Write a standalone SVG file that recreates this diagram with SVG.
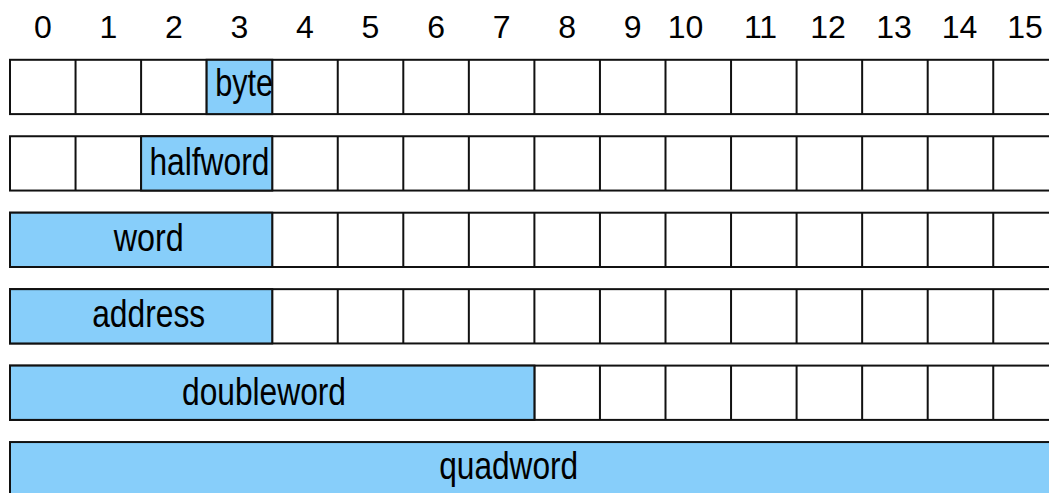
<svg xmlns="http://www.w3.org/2000/svg" xmlns:xlink="http://www.w3.org/1999/xlink" width="1049" height="493" viewBox="0 0 1049 493">
<style>
.cell{fill:#ffffff;stroke:#111111;stroke-width:2}
.vl{fill:none;stroke:#111111;stroke-width:2}
.blk{fill:#87CEFA;stroke:#111111;stroke-width:2}
.idx{font-family:"Liberation Sans",Arial,sans-serif;font-size:32px;fill:#000;text-anchor:middle}
.lbl{font-family:"Liberation Sans Narrow","Liberation Sans",Arial,sans-serif;font-size:38px;fill:#000;text-anchor:middle}
</style>
<defs>
<g id="grid">
<rect class="cell" x="10" y="0" width="1048.8" height="54.3"/>
<path class="vl" d="M75.55 0V54.3M141.1 0V54.3M206.65 0V54.3M272.2 0V54.3M337.75 0V54.3M403.3 0V54.3M468.85 0V54.3M534.4 0V54.3M599.95 0V54.3M665.5 0V54.3M731.05 0V54.3M796.6 0V54.3M862.15 0V54.3M927.7 0V54.3M993.25 0V54.3"/>
</g>
</defs>
<rect width="1049" height="493" fill="#ffffff"/>
<g id="header">
<text class="idx" x="42.8" y="38">0</text>
<text class="idx" x="108.3" y="38">1</text>
<text class="idx" x="173.9" y="38">2</text>
<text class="idx" x="239.4" y="38">3</text>
<text class="idx" x="305" y="38">4</text>
<text class="idx" x="370.5" y="38">5</text>
<text class="idx" x="436.1" y="38">6</text>
<text class="idx" x="501.6" y="38">7</text>
<text class="idx" x="567.2" y="38">8</text>
<text class="idx" x="632.7" y="38">9</text>
<text class="idx" x="685.5" y="38">10</text>
<text class="idx" x="760.5" y="38">11</text>
<text class="idx" x="828" y="38">12</text>
<text class="idx" x="894" y="38">13</text>
<text class="idx" x="959.5" y="38">14</text>
<text class="idx" x="1025" y="38">15</text>
</g>
<g id="row-byte">
<use xlink:href="#grid" href="#grid" y="59.8"/>
<rect class="blk" x="206.65" y="59.8" width="65.55" height="54.3"/>
<text class="lbl" x="244.2" y="96" textLength="58" lengthAdjust="spacingAndGlyphs">byte</text>
</g>
<g id="row-halfword">
<use xlink:href="#grid" href="#grid" y="136.25"/>
<rect class="blk" x="141.1" y="136.25" width="131.1" height="54.3"/>
<text class="lbl" x="209.4" y="175" textLength="120" lengthAdjust="spacingAndGlyphs">halfword</text>
</g>
<g id="row-word">
<use xlink:href="#grid" href="#grid" y="212.7"/>
<rect class="blk" x="10" y="212.7" width="262.2" height="54.3"/>
<text class="lbl" x="148.8" y="250.5" textLength="70" lengthAdjust="spacingAndGlyphs">word</text>
</g>
<g id="row-address">
<use xlink:href="#grid" href="#grid" y="289.15"/>
<rect class="blk" x="10" y="289.15" width="262.2" height="54.3"/>
<text class="lbl" x="148.7" y="327" textLength="113" lengthAdjust="spacingAndGlyphs">address</text>
</g>
<g id="row-doubleword">
<use xlink:href="#grid" href="#grid" y="365.6"/>
<rect class="blk" x="10" y="365.6" width="524.4" height="54.3"/>
<text class="lbl" x="264" y="405" textLength="164" lengthAdjust="spacingAndGlyphs">doubleword</text>
</g>
<g id="row-quadword">
<rect class="blk" x="10" y="442.05" width="1048.8" height="54.3"/>
<text class="lbl" x="508.7" y="479" textLength="139" lengthAdjust="spacingAndGlyphs">quadword</text>
</g>
<g id="connectors"/>
</svg>
